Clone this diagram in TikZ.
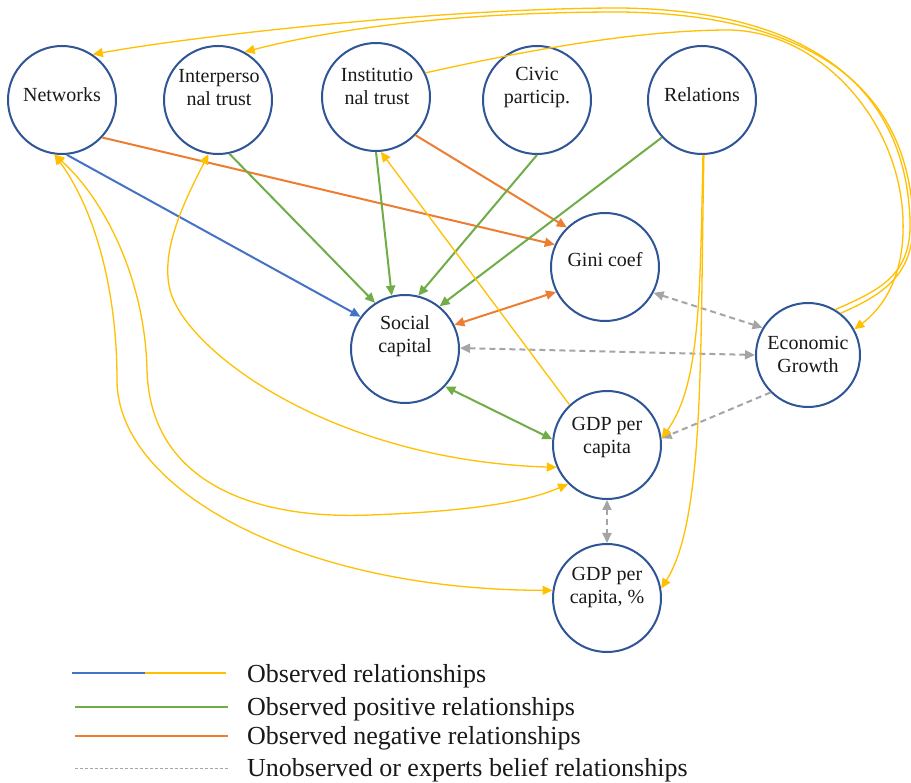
\documentclass[tikz,border=0pt]{standalone}
\usepackage{fontspec}
\setmainfont{Liberation Serif}
\usetikzlibrary{arrows.meta}
\definecolor{circblue}{HTML}{2F5597}
\definecolor{cblue}{HTML}{4472C4}
\definecolor{cgreen}{HTML}{70AD47}
\definecolor{corange}{HTML}{ED7D31}
\definecolor{cyellow}{HTML}{FFC000}
\definecolor{cgray}{HTML}{A5A5A5}
\tikzset{
  circ/.style={circle, draw=circblue, line width=2pt, minimum size=108pt, inner sep=0pt, fill=white},
  lbl/.style={font=\fontsize{20}{23}\selectfont, align=center, inner sep=0pt, text=black!90},
  legtxt/.style={font=\fontsize{26}{30}\selectfont, inner sep=0pt, anchor=base west, text=black!90},
  thickarr/.style={line width=2pt, -{Triangle[length=10pt,width=9pt]}},
  thickdbl/.style={line width=2pt, {Triangle[length=10pt,width=9pt]}-{Triangle[length=10pt,width=9pt]}},
  bluearr/.style={thickarr, draw=cblue, fill=cblue},
  greenarr/.style={thickarr, draw=cgreen, fill=cgreen},
  greendbl/.style={thickdbl, draw=cgreen, fill=cgreen},
  orarr/.style={thickarr, draw=corange, fill=corange},
  ordbl/.style={thickdbl, draw=corange, fill=corange},
  grayarr/.style={line width=2pt, draw=cgray, dash pattern=on 6pt off 4pt, -{Triangle[length=10pt,width=9pt]}},
  graydbl/.style={line width=2pt, draw=cgray, dash pattern=on 6pt off 4pt, {Triangle[length=10pt,width=9pt]}-{Triangle[length=10pt,width=9pt]}},
  yelarr/.style={line width=1.3pt, draw=cyellow, -{Triangle[length=10pt,width=9pt]}},
  yeldbl/.style={line width=1.3pt, draw=cyellow, {Triangle[length=10pt,width=9pt]}-{Triangle[length=10pt,width=9pt]}},
}
\begin{document}
\begin{tikzpicture}[x=1pt,y=-1pt]
\useasboundingbox[fill=white] (0,0) rectangle (911,783);

% nodes
\node[circ] (net) at (62,100) {};
\node[circ] (inter) at (218,100) {};
\node[circ] (inst) at (376,97) {};
\node[circ] (civic) at (537,100) {};
\node[circ] (rel) at (702,100) {};
\node[circ] (gini) at (605,267) {};
\node[circ] (soc) at (405,349) {};
\node[circ, minimum size=104pt] (econ) at (808,355) {};
\node[circ] (gdp) at (607,445) {};
\node[circ] (gdpp) at (607,598) {};

% labels
\node[lbl] (tnet) at (62,95) {Networks};
\node[lbl] (tinter) at (219,88) {Interperso\\nal trust};
\node[lbl] (tinst) at (377,86) {Institutio\\nal trust};
\node[lbl] (tcivic) at (537,88) {Civic\\particip.};
\node[lbl] (trel) at (702,95) {Relations};
\node[lbl] (tgini) at (605,260) {Gini coef};
\node[lbl] (tsoc) at (405,336) {Social\\capital};
\node[lbl] (tecon) at (808,354) {Economic\\Growth};
\node[lbl] (tgdp) at (607,438) {GDP per\\capita};
\node[lbl] (tgdpp) at (607,588) {GDP per\\capita, \%};

% straight connectors
\draw[bluearr] (net.275) -- (soc.144);
\draw[orarr] (net.317) -- (gini.156);
\draw[orarr] (inst.316) -- (gini.134);
\draw[ordbl] (gini.207) -- (soc.26);
\draw[greenarr] (inter.282) -- (soc.123);
\draw[greenarr] (inst.270) -- (soc.104.5);
\draw[greenarr] (civic.270) -- (soc.76.5);
\draw[greenarr] (rel.223.5) -- (soc.51.5);
\draw[greendbl] (soc.317) -- (gdp.174);
\draw[graydbl] (soc.1) -- (econ.180);
\draw[graydbl] (gini.332) -- (econ.149);
\draw[grayarr] (econ.225) -- (gdp.7);
\draw[graydbl] (gdp.270) -- (gdpp.90);

% yellow connectors
\draw[yelarr] (rel.271) .. controls (700,300) and (700,385) .. (gdp.7);
\draw[yelarr] (rel.272) .. controls (700,350) and (705,520) .. (gdpp.10);
\draw[yelarr] (gdp.133.5) -- (inst.275);
\draw[yeldbl] (gdp.204) .. controls (330,460) and (185,350) .. (170,290) .. controls (160,250) and (185,200) .. (inter.260);
\draw[yeldbl] (gdp.225) .. controls (520,505) and (450,512) .. (370,515) .. controls (250,520) and (150,480) .. (147,370) .. controls (145,280) and (105,200) .. (net.262);
\draw[yeldbl] (gdpp.172) .. controls (300,590) and (117,490) .. (117,380) .. controls (117,290) and (95,210) .. (net.262);
\draw[yelarr] (econ.59) .. controls (880,290) and (912,275) .. (910,220) .. controls (905,80) and (800,10) .. (620,8) .. controls (450,8) and (200,35) .. (net.56);
\draw[yelarr] (econ.52) .. controls (890,292) and (914,270) .. (913,220) .. controls (908,80) and (800,14) .. (620,12) .. controls (450,12) and (330,30) .. (inter.61);
\draw[yelarr] (inst.26) .. controls (550,45) and (650,30) .. (730,30) .. controls (820,32) and (900,120) .. (903,220) .. controls (905,280) and (880,310) .. (econ.29);

% legend
\coordinate (l1a) at (72,673);
\coordinate (l1b) at (145,673);
\coordinate (l1c) at (226,673);
\coordinate (l2a) at (75,707);
\coordinate (l2b) at (228,707);
\coordinate (l3a) at (75,736);
\coordinate (l3b) at (228,736);
\coordinate (l4a) at (75,768);
\coordinate (l4b) at (228,768);
\draw[cblue, line width=1.3pt] (l1a) -- (l1b);
\draw[cyellow, line width=1.3pt] (l1b) -- (l1c);
\draw[cgreen, line width=1.3pt] (l2a) -- (l2b);
\draw[corange, line width=1.3pt] (l3a) -- (l3b);
\draw[cgray, line width=0.8pt, dash pattern=on 3pt off 2pt] (l4a) -- (l4b);
\node[legtxt] (lg1) at (247,682) {Observed relationships};
\node[legtxt] (lg2) at (247,715) {Observed positive relationships};
\node[legtxt] (lg3) at (247,744) {Observed negative relationships};
\node[legtxt] (lg4) at (247,776) {Unobserved or experts belief relationships};
\end{tikzpicture}
\end{document}
